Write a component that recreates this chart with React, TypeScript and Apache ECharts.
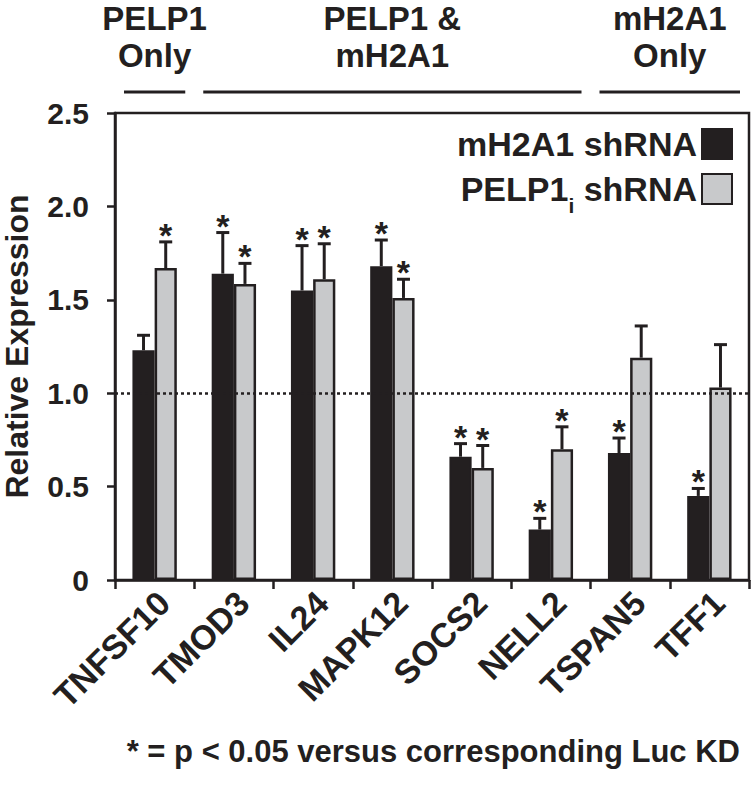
import React, { useEffect, useRef } from "react";
import * as echarts from "echarts";

const categories = ["TNFSF10", "TMOD3", "IL24", "MAPK12", "SOCS2", "NELL2", "TSPAN5", "TFF1"];
const mh2a1Values = [1.23, 1.64, 1.55, 1.68, 0.66, 0.27, 0.68, 0.45];
const mh2a1Errors = [0.08, 0.22, 0.24, 0.14, 0.07, 0.06, 0.08, 0.04];
const mh2a1Sig = [0, 1, 1, 1, 1, 1, 1, 1];
const pelp1Values = [1.67, 1.585, 1.61, 1.51, 0.6, 0.7, 1.19, 1.03];
const pelp1Errors = [0.14, 0.11, 0.19, 0.1, 0.12, 0.12, 0.17, 0.23];
const pelp1Sig = [1, 1, 1, 1, 1, 1, 0, 0];
const yTicks = [0, 0.5, 1.0, 1.5, 2.0, 2.5];
const groups = [
  { lines: ["PELP1", "Only"], from: 0, to: 0 },
  { lines: ["PELP1 &", "mH2A1"], from: 1, to: 5 },
  { lines: ["mH2A1", "Only"], from: 6, to: 7 },
];
const seriesNames = ["mH2A1 shRNA", "PELP1i shRNA"];
const footnote = "* = p < 0.05 versus corresponding Luc KD";

const INK = "#231f20";
const GRAY = "#c8c9cb";
const FONT = "'Liberation Sans', Arial, Helvetica, sans-serif";
const BAR_RATIO = 0.28;

function errorSeries(name: string, values: number[], errors: number[], sig: number[], dir: number) {
  return {
    type: "custom",
    name: name + " err",
    z: 3,
    silent: true,
    data: values.map((v, i) => [i, v, v + errors[i], sig[i]]),
    encode: { x: 0, y: 1 },
    renderItem: (params: any, api: any) => {
      const i = api.value(0);
      const v = api.value(1);
      const hi = api.value(2);
      const s = api.value(3);
      const band = api.size([1, 0])[0];
      const off = ((band * BAR_RATIO) / 2) * dir;
      const base = api.coord([i, v]);
      const top = api.coord([i, hi]);
      const x = base[0] + off;
      const children: any[] = [
        {
          type: "line",
          shape: { x1: x, y1: base[1], x2: x, y2: top[1] },
          style: { stroke: INK, lineWidth: 3 },
        },
        {
          type: "line",
          shape: { x1: x - 6.5, y1: top[1], x2: x + 6.5, y2: top[1] },
          style: { stroke: INK, lineWidth: 3 },
        },
      ];
      if (s) {
        children.push({
          type: "text",
          style: {
            text: "*",
            x: x,
            y: top[1] - 7,
            align: "center",
            verticalAlign: "middle",
            fontSize: 34,
            fontWeight: "bold",
            fontFamily: FONT,
            fill: INK,
          },
        });
      }
      return { type: "group", children };
    },
  };
}

export default function App() {
  const ref = useRef<HTMLDivElement>(null);
  useEffect(() => {
    if (!ref.current) return;
    const chart = echarts.init(ref.current, null, { renderer: "svg" });
    const option: any = {
      animation: false,
      textStyle: { fontFamily: FONT },
      grid: {
        left: 115,
        right: 2,
        top: 113,
        bottom: 208,
        show: true,
        borderColor: INK,
        borderWidth: 2.5,
        containLabel: false,
        outerBoundsMode: "none",
      },
      legend: {
        data: seriesNames,
        orient: "vertical",
        right: 13,
        top: 122,
        align: "right",
        itemWidth: 30,
        itemHeight: 30,
        itemGap: 11,
        selectedMode: false,
        icon: "rect",
        formatter: (name: string) =>
          name === "PELP1i shRNA" ? "{a|PELP1}{s|i}{a| shRNA}" : "{a|" + name + "}",
        textStyle: {
          fontFamily: FONT,
          fontWeight: "bold",
          fontSize: 34,
          color: INK,
          rich: {
            a: { fontFamily: FONT, fontWeight: "bold", fontSize: 34, color: INK, lineHeight: 38 },
            s: {
              fontFamily: FONT,
              fontWeight: "bold",
              fontSize: 21,
              color: INK,
              lineHeight: 21,
              verticalAlign: "bottom",
              padding: [0, 0, -8, 0],
            },
          },
        },
      },
      xAxis: {
        type: "category",
        data: categories,
        axisLine: { show: true, lineStyle: { color: INK, width: 2.5 } },
        axisTick: { show: true, length: 9, lineStyle: { color: INK, width: 2.5 } },
        axisLabel: {
          rotate: 45,
          margin: 8,
          fontSize: 34,
          fontWeight: "bold",
          fontFamily: FONT,
          color: INK,
          interval: 0,
          formatter: (v: string) => "{t|" + v + "}",
          rich: {
            t: {
              fontSize: 34,
              fontWeight: "bold",
              fontFamily: FONT,
              color: INK,
              padding: [26, 0, 0, 0],
            },
          },
        },
      },
      yAxis: {
        type: "value",
        min: 0,
        max: 2.5,
        interval: 0.5,
        name: "Relative Expression",
        nameLocation: "middle",
        nameRotate: 90,
        nameGap: 82,
        nameTextStyle: { fontSize: 32, fontWeight: "bold", fontFamily: FONT, color: INK },
        splitLine: { show: false },
        axisLine: { show: true, lineStyle: { color: INK, width: 2.5 } },
        axisTick: { show: true, inside: false, length: 8, lineStyle: { color: INK, width: 2.5 } },
        axisLabel: {
          margin: 26,
          fontSize: 30,
          fontWeight: "bold",
          fontFamily: FONT,
          color: INK,
          formatter: (v: number) => (yTicks.indexOf(v) >= 0 ? (v === 0 ? "0" : v.toFixed(1)) : ""),
        },
      },
      series: [
        {
          type: "line",
          name: "ref",
          data: [],
          z: 1,
          silent: true,
          markLine: {
            silent: true,
            symbol: ["none", "none"],
            label: { show: false },
            lineStyle: { type: [3, 3], width: 2.5, color: INK },
            data: [{ yAxis: 1 }],
          },
        },
        {
          type: "bar",
          name: seriesNames[0],
          data: mh2a1Values,
          barWidth: BAR_RATIO * 100 + "%",
          barGap: "0%",
          z: 2,
          itemStyle: { color: INK, borderColor: INK, borderWidth: 2 },
        },
        {
          type: "bar",
          name: seriesNames[1],
          data: pelp1Values,
          barWidth: BAR_RATIO * 100 + "%",
          barGap: "0%",
          z: 2,
          itemStyle: { color: GRAY, borderColor: INK, borderWidth: 2.5 },
        },
        errorSeries(seriesNames[0], mh2a1Values, mh2a1Errors, mh2a1Sig, -1),
        errorSeries(seriesNames[1], pelp1Values, pelp1Errors, pelp1Sig, 1),
      ],
    };
    chart.setOption(option);

    const graphics: any[] = [];
    const c0 = chart.convertToPixel({ xAxisIndex: 0 }, 0) as number;
    const c1 = chart.convertToPixel({ xAxisIndex: 0 }, 1) as number;
    const band = c1 - c0;
    groups.forEach((g) => {
      const left = (chart.convertToPixel({ xAxisIndex: 0 }, g.from) as number) - band / 2;
      const right = (chart.convertToPixel({ xAxisIndex: 0 }, g.to) as number) + band / 2;
      graphics.push({
        type: "line",
        shape: { x1: left + 9, y1: 92, x2: right - 9, y2: 92 },
        style: { stroke: INK, lineWidth: 3 },
      });
      graphics.push({
        type: "text",
        x: (left + right) / 2,
        y: 37,
        style: {
          text: g.lines.join("\n"),
          align: "center",
          verticalAlign: "middle",
          lineHeight: 37,
          fontSize: 33,
          fontWeight: "bold",
          fontFamily: FONT,
          fill: INK,
        },
      });
    });
    graphics.push({
      type: "text",
      right: 11,
      top: 736,
      style: {
        text: footnote,
        fontSize: 31,
        fontWeight: "bold",
        fontFamily: FONT,
        fill: INK,
      },
    });
    chart.setOption({ graphic: graphics });

    return () => chart.dispose();
  }, []);
  return (
    <div
      ref={ref}
      style={{ position: "fixed", left: 0, top: 0, width: 751, height: 788, background: "#fff" }}
    />
  );
}
